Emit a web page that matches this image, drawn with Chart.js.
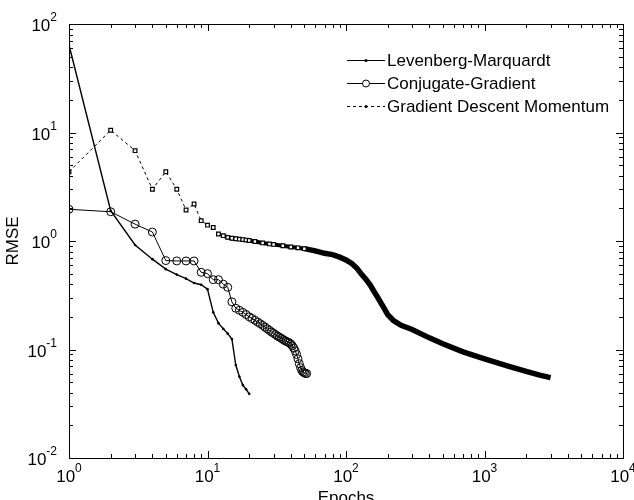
<!DOCTYPE html>
<html lang="en">
<head>
<meta charset="UTF-8">
<title>RMSE vs Epochs</title>
<script src="https://cdn.jsdelivr.net/npm/chart.js"></script>
<style>
    html, body { margin: 0; padding: 0; background: #ffffff; }
    #wrap { width: 634px; height: 500px; }
</style>
</head>
<body>
<div id="wrap"><canvas id="rmseChart" width="634" height="500"></canvas></div>
<script>
// values (log-log)
const lmEpochs = [1, 2, 3, 4, 5, 6, 7, 8, 9, 10, 11, 12, 13, 14, 15, 16, 17, 18, 19, 20];
const lmRmse = [64, 1.9, 0.92, 0.68, 0.55, 0.49, 0.45, 0.41, 0.395, 0.36, 0.22, 0.175, 0.155, 0.14, 0.125, 0.072, 0.056, 0.047, 0.043, 0.039];

const cgEpochs = [1, 2, 3, 4, 5, 6, 7, 8, 9, 10, 11, 12, 13, 14, 15, 16, 17, 18, 19, 20,
    21, 22, 23, 24, 25, 26, 27, 28, 29, 30, 31, 32, 33, 34, 35, 36, 37, 38, 39, 40,
    41, 42, 43, 44, 45, 46, 47, 48, 49, 50, 51, 52];
const cgRmse = [1.96, 1.86, 1.43, 1.21, 0.66, 0.655, 0.655, 0.655, 0.515, 0.5, 0.44, 0.44, 0.4, 0.374, 0.275, 0.24, 0.23, 0.22, 0.21, 0.2,
    0.193, 0.186, 0.179, 0.173, 0.167, 0.161, 0.155, 0.15, 0.145, 0.141, 0.137, 0.133, 0.13, 0.127, 0.124, 0.121, 0.119, 0.117, 0.115, 0.112,
    0.108, 0.103, 0.097, 0.09, 0.082, 0.074, 0.068, 0.064, 0.062, 0.061, 0.06, 0.06];

const gdmEpochs = [1, 2, 3, 4, 5, 6, 7, 8, 9, 10, 11, 12, 13, 14, 15, 16, 17, 18, 19, 20,
    22, 25, 28, 30, 35, 40, 45, 50, 60, 70, 80, 90, 100, 110, 120, 130, 140, 150, 160, 170, 180, 190, 200,
    220, 250, 300, 400, 500, 700, 1000, 1500, 2000, 2500, 3000];
const gdmRmse = [4.35, 10.5, 6.8, 3.0, 4.35, 3.0, 1.93, 2.19, 1.54, 1.4, 1.33, 1.16, 1.12, 1.08, 1.06, 1.05, 1.04, 1.03, 1.02, 1.01,
    0.99, 0.96, 0.94, 0.93, 0.905, 0.88, 0.865, 0.85, 0.81, 0.77, 0.75, 0.71, 0.67, 0.62, 0.56, 0.49, 0.44, 0.39, 0.34, 0.3, 0.265, 0.235, 0.21,
    0.185, 0.167, 0.153, 0.128, 0.113, 0.095, 0.082, 0.07, 0.063, 0.058, 0.055];

const seriesNames = ['Levenberg-Marquardt', 'Conjugate-Gradient', 'Gradient Descent Momentum'];
const xTickValues = [1, 10, 100, 1000, 10000];
const yTickValues = [0.01, 0.1, 1, 10, 100];

const FONT = '"Liberation Sans", Arial, Helvetica, sans-serif';

function toPoints(xs, ys) {
    return xs.map((x, i) => ({ x: x, y: ys[i] }));
}

// "10" plus raised exponent, anchored by align ('center' or 'right')
function drawPower(ctx, v, x, baseline, align) {
    const exp = String(Math.round(Math.log10(v)));
    ctx.font = '17px ' + FONT;
    const wb = ctx.measureText('10').width;
    ctx.font = '12px ' + FONT;
    const we = ctx.measureText(exp).width;
    const total = wb + we;
    const left = align === 'center' ? x - total / 2 : x - total;
    ctx.font = '17px ' + FONT;
    ctx.fillText('10', left, baseline);
    ctx.font = '12px ' + FONT;
    ctx.fillText(exp, left + wb, baseline - 10);
}

// inward ticks on all four sides, the box and the decade labels
const boxTicks = {
    id: 'boxTicks',
    afterDatasetsDraw(chart) {
        const { ctx, chartArea: a, scales } = chart;
        const xs = scales.x, ys = scales.y;
        ctx.save();
        ctx.strokeStyle = '#000';
        ctx.lineWidth = 1;
        ctx.beginPath();
        for (let e = 0; e < 4; e++) {
            for (let k = 1; k <= 9; k++) {
                const px = Math.round(xs.getPixelForValue(k * Math.pow(10, e))) + 0.5;
                const len = k === 1 ? 7 : 4;
                ctx.moveTo(px, a.bottom); ctx.lineTo(px, a.bottom - len);
                ctx.moveTo(px, a.top); ctx.lineTo(px, a.top + len);
            }
        }
        for (let e = -2; e < 2; e++) {
            for (let k = 1; k <= 9; k++) {
                const py = Math.round(ys.getPixelForValue(k * Math.pow(10, e))) + 0.5;
                const len = k === 1 ? 7 : 4;
                ctx.moveTo(a.left, py); ctx.lineTo(a.left + len, py);
                ctx.moveTo(a.right, py); ctx.lineTo(a.right - len, py);
            }
        }
        ctx.stroke();
        ctx.strokeRect(Math.round(a.left) + 0.5, Math.round(a.top) + 0.5,
            Math.round(a.right - a.left), Math.round(a.bottom - a.top));

        ctx.fillStyle = '#000';
        ctx.textBaseline = 'alphabetic';
        ctx.textAlign = 'left';
        xTickValues.forEach(v => drawPower(ctx, v, xs.getPixelForValue(v), a.bottom + 24, 'center'));
        yTickValues.forEach(v => drawPower(ctx, v, a.left - 12, ys.getPixelForValue(v) + 7, 'right'));
        ctx.restore();
    }
};

// matlab style legend: line sample with marker in the middle
const sampleLegend = {
    id: 'sampleLegend',
    afterDraw(chart) {
        const ctx = chart.ctx;
        const x0 = 347, x1 = 385, y0 = 60, step = 23;
        ctx.save();
        chart.data.datasets.forEach((ds, i) => {
            const y = y0 + i * step;
            ctx.strokeStyle = '#000';
            ctx.lineWidth = 1;
            ctx.setLineDash(ds.borderDash || []);
            ctx.beginPath();
            ctx.moveTo(x0, y + 0.5);
            ctx.lineTo(x1, y + 0.5);
            ctx.stroke();
            ctx.setLineDash([]);
            const mx = (x0 + x1) / 2;
            ctx.beginPath();
            if (ds.pointStyle === 'circle' && ds.pointRadius > 2) {
                ctx.fillStyle = '#fff';
                ctx.arc(mx, y + 0.5, 3.5, 0, Math.PI * 2);
                ctx.fill();
                ctx.stroke();
            } else {
                ctx.fillStyle = '#000';
                ctx.arc(mx, y + 0.5, 1.6, 0, Math.PI * 2);
                ctx.fill();
            }
            ctx.fillStyle = '#000';
            ctx.font = '17px ' + FONT;
            ctx.textBaseline = 'middle';
            ctx.textAlign = 'left';
            ctx.fillText(ds.label, x1 + 2, y + 1);
        });
        ctx.restore();
    }
};

const ctx = document.getElementById('rmseChart').getContext('2d');
const chart = new Chart(ctx, {
    type: 'line',
    data: {
        datasets: [{
            label: seriesNames[0],
            data: toPoints(lmEpochs, lmRmse),
            borderColor: '#000',
            backgroundColor: '#000',
            borderWidth: 1.4,
            pointStyle: 'circle',
            pointRadius: 1.3,
            pointBorderWidth: 0,
            tension: 0
        }, {
            label: seriesNames[1],
            data: toPoints(cgEpochs, cgRmse),
            borderColor: '#000',
            backgroundColor: 'rgba(255,255,255,0)',
            pointBackgroundColor: 'rgba(255,255,255,0)',
            borderWidth: 1,
            pointStyle: 'circle',
            pointRadius: 4,
            pointBorderWidth: 1,
            tension: 0
        }, {
            label: seriesNames[2],
            data: toPoints(gdmEpochs, gdmRmse),
            borderColor: '#000',
            backgroundColor: '#000',
            pointBackgroundColor: '#fff',
            borderWidth: 1,
            borderDash: [3, 3],
            pointStyle: 'rect',
            pointRadius: c => (c.raw && c.raw.x <= 50 ? 2.6 : 0),
            pointBorderWidth: 1.2,
            tension: 0,
            segment: {
                borderWidth: c => {
                    const x = c.p0.parsed.x;
                    if (x >= 50) return 5.5;
                    if (x >= 13) return 4;
                    return 1;
                },
                borderDash: c => (c.p0.parsed.x >= 12 ? [] : [3, 3])
            }
        }]
    },
    options: {
        responsive: false,
        animation: false,
        layout: { padding: { left: 0, top: 24, right: 11, bottom: 0 } },
        plugins: {
            legend: { display: false },
            tooltip: { enabled: false }
        },
        scales: {
            x: {
                type: 'logarithmic',
                min: 1,
                max: 10000,
                grid: { display: false },
                border: { display: false },
                afterBuildTicks(scale) {
                    scale.ticks = xTickValues.map(v => ({ value: v }));
                },
                afterFit(scale) {
                    scale.height = 42;
                    scale.paddingLeft = 0;
                    scale.paddingRight = 0;
                },
                ticks: { display: false },
                title: {
                    display: true,
                    text: 'Epochs',
                    color: '#000',
                    font: { family: FONT, size: 17, lineHeight: 1 },
                    padding: { top: 0, bottom: -7 }
                }
            },
            y: {
                type: 'logarithmic',
                min: 0.01,
                max: 100,
                grid: { display: false },
                border: { display: false },
                afterBuildTicks(scale) {
                    scale.ticks = yTickValues.map(v => ({ value: v }));
                },
                afterFit(scale) {
                    scale.width = 69;
                    scale.paddingTop = 0;
                    scale.paddingBottom = 0;
                },
                ticks: { display: false },
                title: {
                    display: true,
                    text: 'RMSE',
                    color: '#000',
                    font: { family: FONT, size: 17, lineHeight: 1 },
                    padding: { top: 5, bottom: 0 }
                }
            }
        }
    },
    plugins: [boxTicks, sampleLegend]
});
</script>
</body>
</html>
